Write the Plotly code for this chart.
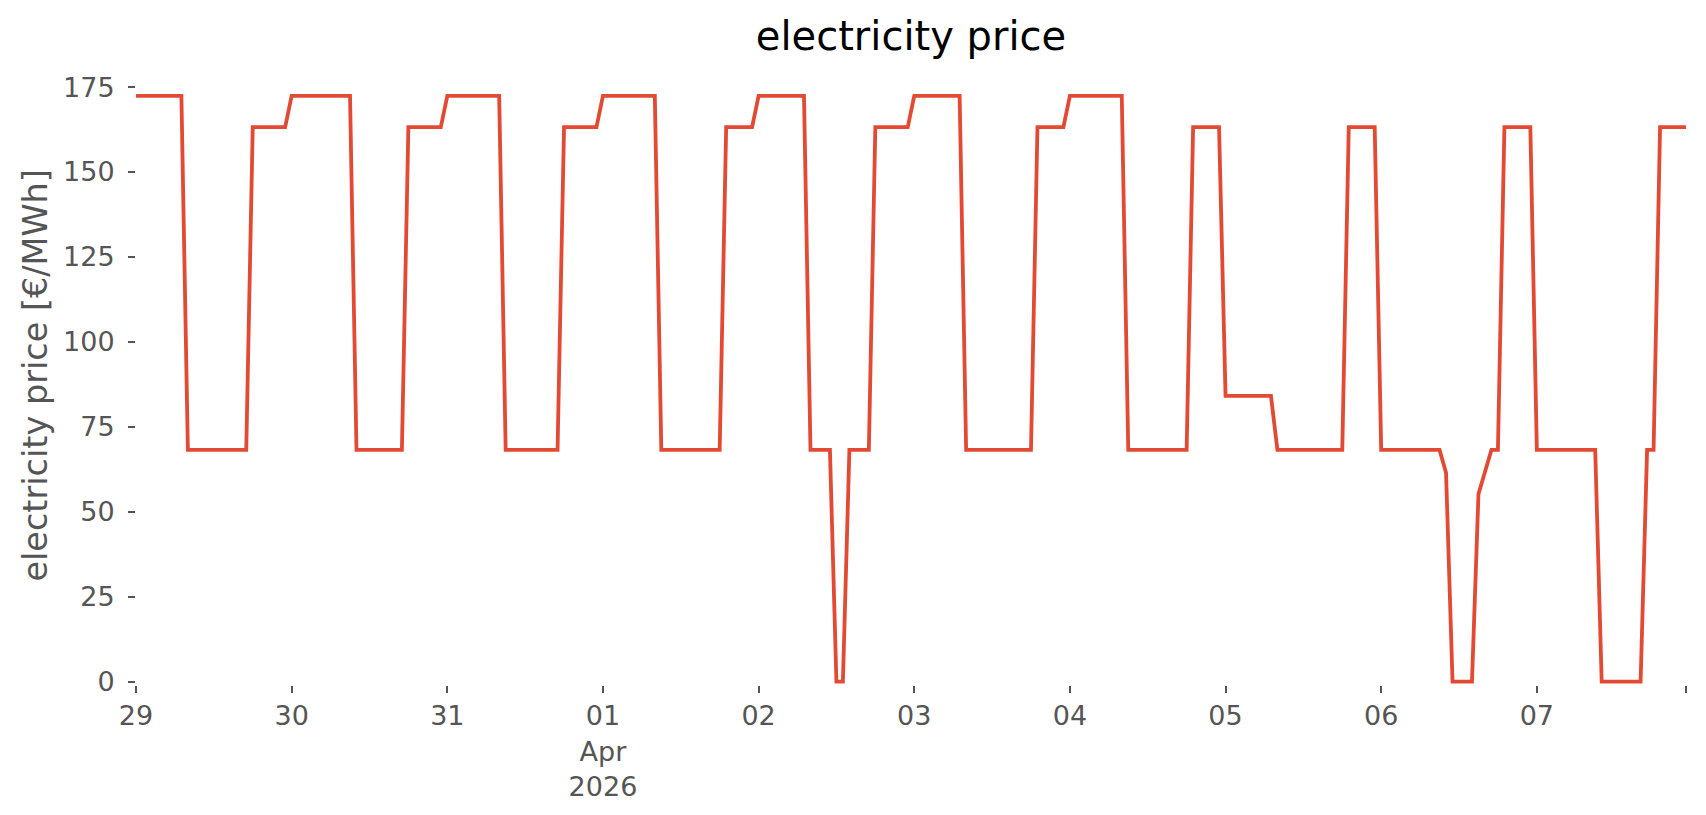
import pandas as pd
import plotly.graph_objects as go

# hourly electricity prices [€/MWh], one list per day (00:00 .. 23:00)
mar29 = [172.4, 172.4, 172.4, 172.4, 172.4, 172.4, 172.4, 172.4,
         68.2, 68.2, 68.2, 68.2, 68.2, 68.2, 68.2, 68.2, 68.2, 68.2,
         163.2, 163.2, 163.2, 163.2, 163.2, 163.2]
mar30 = [172.4, 172.4, 172.4, 172.4, 172.4, 172.4, 172.4, 172.4, 172.4, 172.4,
         68.2, 68.2, 68.2, 68.2, 68.2, 68.2, 68.2, 68.2,
         163.2, 163.2, 163.2, 163.2, 163.2, 163.2]
mar31 = [172.4, 172.4, 172.4, 172.4, 172.4, 172.4, 172.4, 172.4, 172.4,
         68.2, 68.2, 68.2, 68.2, 68.2, 68.2, 68.2, 68.2, 68.2,
         163.2, 163.2, 163.2, 163.2, 163.2, 163.2]
apr01 = [172.4, 172.4, 172.4, 172.4, 172.4, 172.4, 172.4, 172.4, 172.4,
         68.2, 68.2, 68.2, 68.2, 68.2, 68.2, 68.2, 68.2, 68.2, 68.2,
         163.2, 163.2, 163.2, 163.2, 163.2]
apr02 = [172.4, 172.4, 172.4, 172.4, 172.4, 172.4, 172.4, 172.4,
         68.2, 68.2, 68.2, 68.2, 0.0, 0.0, 68.2, 68.2, 68.2, 68.2,
         163.2, 163.2, 163.2, 163.2, 163.2, 163.2]
apr03 = [172.4, 172.4, 172.4, 172.4, 172.4, 172.4, 172.4, 172.4,
         68.2, 68.2, 68.2, 68.2, 68.2, 68.2, 68.2, 68.2, 68.2, 68.2, 68.2,
         163.2, 163.2, 163.2, 163.2, 163.2]
apr04 = [172.4, 172.4, 172.4, 172.4, 172.4, 172.4, 172.4, 172.4, 172.4,
         68.2, 68.2, 68.2, 68.2, 68.2, 68.2, 68.2, 68.2, 68.2, 68.2,
         163.2, 163.2, 163.2, 163.2, 163.2]
apr05 = [84.1, 84.1, 84.1, 84.1, 84.1, 84.1, 84.1, 84.1,
         68.2, 68.2, 68.2, 68.2, 68.2, 68.2, 68.2, 68.2, 68.2, 68.2, 68.2,
         163.2, 163.2, 163.2, 163.2, 163.2]
apr06 = [68.2, 68.2, 68.2, 68.2, 68.2, 68.2, 68.2, 68.2, 68.2, 68.2,
         61.5, 0.0, 0.0, 0.0, 0.0, 55.2, 61.6, 68.2, 68.2,
         163.2, 163.2, 163.2, 163.2, 163.2]
apr07 = [68.2, 68.2, 68.2, 68.2, 68.2, 68.2, 68.2, 68.2, 68.2, 68.2,
         0.0, 0.0, 0.0, 0.0, 0.0, 0.0, 0.0, 68.2, 68.2,
         163.2, 163.2, 163.2, 163.2, 163.2]

days = [mar29, mar30, mar31, apr01, apr02, apr03, apr04, apr05, apr06, apr07]
prices = [v for d in days for v in d]
times = pd.date_range("2026-03-29 00:00", periods=len(prices), freq="h")

tick_vals = list(pd.date_range("2026-03-29", periods=10, freq="D")) + [times[-1]]
tick_text = ["29", "30", "31", "01<br>Apr<br>2026", "02", "03", "04", "05", "06", "07", ""]
y_ticks = [0, 25, 50, 75, 100, 125, 150, 175]

FONT = "DejaVu Sans"
GRAY = "#555555"

W, H = 1706, 815
L_M, R_M, T_M, B_M = 128, 28, 57, 137.5
plot_w = W - L_M - R_M

fig = go.Figure()
fig.add_trace(go.Scatter(
    x=times, y=prices, mode="lines",
    line=dict(color="#E24A33", width=3.8),
    showlegend=False,
))

fig.update_layout(
    width=W, height=H,
    margin=dict(l=L_M, r=R_M, t=T_M, b=B_M),
    paper_bgcolor="white", plot_bgcolor="white",
    font=dict(family=FONT, color=GRAY, size=27),
    title=dict(text="electricity price", x=0.5, xref="paper", xanchor="center",
               y=1 - 28 / H, yref="container", yanchor="middle",
               font=dict(family=FONT, size=40, color="black")),
)
fig.update_xaxes(
    type="date", range=[times[0], times[-1]],
    tickmode="array", tickvals=tick_vals, ticktext=tick_text,
    ticks="outside", ticklen=7, tickwidth=1.5, tickcolor=GRAY,
    showgrid=False, zeroline=False, showline=False,
    tickfont=dict(family=FONT, size=27, color=GRAY),
)
fig.update_yaxes(
    range=[-1, 181.5],
    tickmode="array", tickvals=y_ticks,
    ticks="outside", ticklen=7, tickwidth=1.5, tickcolor=GRAY,
    ticklabelstandoff=8,
    showgrid=False, zeroline=False, showline=False,
    tickfont=dict(family=FONT, size=27, color=GRAY),
)
fig.add_annotation(
    text="electricity price [€/MWh]", textangle=-90,
    xref="paper", yref="paper", x=(36 - 136) / 1550, y=0.499,
    xanchor="center", yanchor="middle", showarrow=False,
    font=dict(family=FONT, size=33.5, color=GRAY),
)

fig.write_html("out.html")
